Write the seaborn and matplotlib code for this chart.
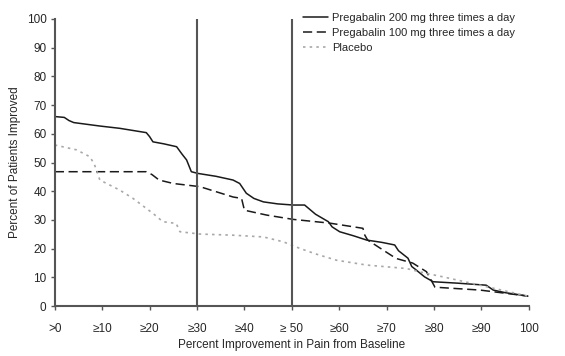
import matplotlib
matplotlib.use("Agg")
import matplotlib.pyplot as plt
import seaborn as sns
import pandas as pd

x_200 = [0, 2, 3, 4, 9.5, 13.7, 19.3, 20, 20.7, 23, 25.7, 26.8, 27.8, 28.8, 30.2, 34, 37.6, 39, 39.7, 40.4, 42, 44, 47, 50.3, 52.7, 55, 57.7, 58.5, 60.1, 63, 65.8, 69, 71.7, 72.5, 74.5, 75.3, 76.3, 78, 79.8, 85, 91, 92.5, 95, 99.8]
y_200 = [66, 65.7, 64.6, 63.9, 62.7, 61.9, 60.4, 59, 57.2, 56.5, 55.5, 53, 50.9, 46.8, 46.2, 45.2, 43.9, 42.7, 41, 39.3, 37.5, 36.3, 35.6, 35.2, 35.2, 32, 29.4, 27.6, 25.9, 24.5, 23, 22.2, 21.3, 19.3, 16.7, 13.8, 12.5, 10.2, 8.5, 8, 7.3, 5.6, 4.7, 3.5]

x_100 = [0, 19.3, 20.5, 22, 25, 30.6, 37.6, 39.4, 40, 44.7, 50.3, 58, 65, 65.4, 66, 72, 75.5, 78.4, 80.2, 89.7, 99.8]
y_100 = [46.8, 46.8, 45.8, 43.9, 42.7, 41.6, 38, 37.5, 33.4, 31.7, 30.2, 28.9, 27.1, 24.7, 23, 16.6, 15, 12, 6.6, 5.6, 3.5]

x_pl = [0, 4.6, 7.4, 8.3, 8.8, 9.5, 13.7, 16.5, 20.7, 22.8, 25.6, 26.4, 30.6, 37.6, 44, 48.2, 51.7, 55, 59.4, 65.8, 74.2, 78.4, 81.9, 89.7, 99.8]
y_pl = [56.1, 54.4, 52, 49.5, 47.4, 43.9, 40.4, 37.5, 32.3, 29.4, 28.8, 25.9, 25.1, 24.7, 24.1, 22.4, 20.1, 18.2, 16, 14.3, 13.1, 11.4, 10.2, 7.3, 3.5]

series_names = ["Pregabalin 200 mg three times a day",
                "Pregabalin 100 mg three times a day",
                "Placebo"]
x_ticks = [0, 10, 20, 30, 40, 50, 60, 70, 80, 90, 100]
x_tick_labels = [">0", "≥10", "≥20", "≥30", "≥40", "≥ 50", "≥60", "≥70", "≥80", "≥90", "100"]
y_ticks = [0, 10, 20, 30, 40, 50, 60, 70, 80, 90, 100]
ref_lines = [30, 50]

sns.set_theme(style="white")
plt.rcParams["font.family"] = ["Liberation Sans", "DejaVu Sans"]

fig = plt.figure(figsize=(5.65, 3.56), dpi=100)
ax = fig.add_axes([0.097, 0.140, 0.839, 0.807])

styles = [
    dict(color="#1a1a1a", linestyle="-", linewidth=1.1),
    dict(color="#1a1a1a", linestyle=(0, (6, 3)), linewidth=1.1),
    dict(color="#a8a8a8", linestyle=(0, (1.5, 2.5)), linewidth=1.2),
]
for name, xs, ys, st in zip(series_names, [x_200, x_100, x_pl], [y_200, y_100, y_pl], styles):
    df = pd.DataFrame({"x": xs, "y": ys})
    sns.lineplot(data=df, x="x", y="y", ax=ax, label=name, **st)

for v in ref_lines:
    ax.axvline(v, color="#555555", linewidth=1.5, ymin=0, ymax=1.0)

ax.set_xlim(0, 100)
ax.set_ylim(0, 100)
ax.set_xticks(x_ticks)
ax.set_xticklabels(x_tick_labels)
ax.set_yticks(y_ticks)
ax.tick_params(axis="both", which="major", labelsize=8.5, length=3, width=1,
               color="#555555", direction="out", bottom=True, left=True, pad=9)
ax.tick_params(axis="y", pad=3)
for s in ["top", "right"]:
    ax.spines[s].set_visible(False)
for s in ["left", "bottom"]:
    ax.spines[s].set_color("#555555")
    ax.spines[s].set_linewidth(1.5)

ax.set_xlabel("Percent Improvement in Pain from Baseline", fontsize=8.5, labelpad=3)
ax.set_ylabel("Percent of Patients Improved", fontsize=8.5, labelpad=4)

leg = ax.legend(loc="upper left", bbox_to_anchor=(0.515, 1.035), frameon=False,
                fontsize=8, handlelength=2.2, handletextpad=0.4, labelspacing=0.45,
                borderaxespad=0)

fig.savefig("out.png", dpi=100)
